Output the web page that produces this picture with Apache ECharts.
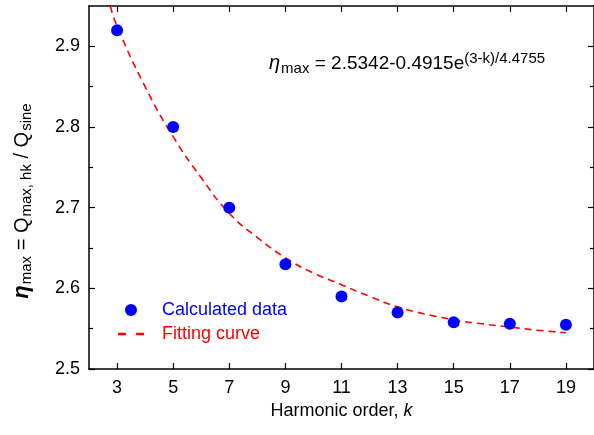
<!DOCTYPE html>
<html><head><meta charset="utf-8">
<script src="https://cdn.jsdelivr.net/npm/echarts@6/dist/echarts.min.js"></script>
<style>html,body{margin:0;padding:0;background:#fff}#c{width:594px;height:435px}</style>
</head><body><div id="c"></div>
<script>
// ---- data ----
const harmonicOrder = [3, 5, 7, 9, 11, 13, 15, 17, 19];
const calculatedData = [2.92, 2.80, 2.70, 2.63, 2.59, 2.57, 2.558, 2.556, 2.555];
const fitK = [2.76, 3, 4, 5, 6, 7, 8, 9, 10, 11, 12, 13, 14, 15, 16, 17, 18, 19];
const fitValues = [2.95, 2.925, 2.850, 2.788, 2.737, 2.693, 2.663, 2.638, 2.619, 2.6045, 2.590, 2.577, 2.568, 2.561, 2.556, 2.552, 2.548, 2.545];
const xTickValues = [3, 5, 7, 9, 11, 13, 15, 17, 19];
const yTickValues = [2.5, 2.6, 2.7, 2.8, 2.9];

const FONT = 'Arial, "Liberation Sans", sans-serif';
const chart = echarts.init(document.getElementById('c'), null, {renderer: 'canvas'});

const axisLineStyle = {color: '#000', width: 1.5};
const option = {
  backgroundColor: '#fff',
  animation: false,
  grid: {left: 89, right: -3, top: 6, bottom: 66, containLabel: false},
  xAxis: [{
    type: 'value', min: 2, max: 20, position: 'bottom',
    axisLine: {show: true, onZero: false, lineStyle: axisLineStyle},
    axisTick: {show: true, inside: true, length: 6, customValues: xTickValues, lineStyle: {color: '#000', width: 1.2}},
    axisLabel: {show: true, customValues: xTickValues, margin: 10, color: '#000', fontSize: 18, fontFamily: FONT},
    splitLine: {show: false},
    name: '{n|Harmonic order, }{i|k}', nameLocation: 'middle', nameGap: 33,
    nameTextStyle: {rich: {
      n: {fontSize: 18, fontFamily: FONT, color: '#000'},
      i: {fontSize: 18, fontFamily: FONT, color: '#000', fontStyle: 'italic'}
    }}
  }, {
    type: 'value', min: 2, max: 20, position: 'top',
    axisLine: {show: true, onZero: false, lineStyle: axisLineStyle},
    axisTick: {show: true, inside: true, length: 6, customValues: xTickValues, lineStyle: {color: '#000', width: 1.2}},
    axisLabel: {show: false}, splitLine: {show: false}
  }],
  yAxis: [{
    type: 'value', min: 2.5, max: 2.95, interval: 0.1, position: 'left',
    axisLine: {show: true, onZero: false, lineStyle: axisLineStyle},
    axisTick: {show: true, inside: true, length: 6, customValues: yTickValues, lineStyle: {color: '#000', width: 1.2}},
    minorTick: {show: true, splitNumber: 2, length: 4, lineStyle: {color: '#000', width: 1.2}},
    axisLabel: {show: true, customValues: yTickValues, margin: 9, color: '#000', fontSize: 18, fontFamily: FONT,
      formatter: v => v.toFixed(1)},
    splitLine: {show: false}
  }, {
    type: 'value', min: 2.5, max: 2.95, interval: 0.1, position: 'right',
    axisLine: {show: true, onZero: false, lineStyle: axisLineStyle},
    axisTick: {show: true, inside: true, length: 6, customValues: yTickValues, lineStyle: {color: '#000', width: 1.2}},
    minorTick: {show: true, splitNumber: 2, length: 4, lineStyle: {color: '#000', width: 1.2}},
    axisLabel: {show: false}, splitLine: {show: false}
  }],
  legend: {
    orient: 'vertical', left: 113, top: 296, itemGap: 6, itemWidth: 26, itemHeight: 12,
    textStyle: {fontSize: 18, fontFamily: FONT, padding: [0, 0, 0, 13]},
    data: [
      {name: 'Calculated data', icon: 'circle', textStyle: {color: '#0000ff'}},
      {name: 'Fitting curve', icon: 'path://M0,0h7v2h-7zM16,0h7v2h-7z',
       itemStyle: {color: '#ff0000'}, textStyle: {color: '#ff0000'}}
    ]
  },
  series: [{
    name: 'Fitting curve', type: 'line', smooth: true, symbol: 'none', z: 2,
    data: fitK.map((k, i) => [k, fitValues[i]]),
    lineStyle: {color: '#ff0000', width: 1.6, type: [7, 5]},
    itemStyle: {color: '#ff0000'}
  }, {
    name: 'Calculated data', type: 'scatter', symbol: 'circle', symbolSize: 12, z: 3,
    data: harmonicOrder.map((k, i) => [k, calculatedData[i]]),
    itemStyle: {color: '#0000ff', opacity: 1}
  }],
  graphic: [{
    type: 'text', left: 269, top: 51, z: 10,
    style: {
      text: '{e|η}{s|max}{n| = 2.5342-0.4915e}{p|(3-k)/4.4755}',
      rich: {
        e: {fontSize: 20, fontFamily: FONT, fontStyle: 'italic', fill: '#000'},
        s: {fontSize: 15, fontFamily: FONT, fill: '#000', padding: [10, 0, 0, 1]},
        n: {fontSize: 19, fontFamily: FONT, fill: '#000'},
        p: {fontSize: 15, fontFamily: FONT, fill: '#000', padding: [0, 0, 10, 0]}
      }
    }
  }, {
    type: 'text', x: 22, y: 201, rotation: Math.PI / 2, z: 10,
    style: {
      text: '{e|η}{s|max}{n| = Q}{s|max, hk}{n| / Q}{s|sine}',
      align: 'center', verticalAlign: 'middle',
      rich: {
        e: {fontSize: 22, fontFamily: FONT, fontStyle: 'italic', fontWeight: 'bold', fill: '#000'},
        s: {fontSize: 15, fontFamily: FONT, fill: '#000', padding: [10, 0, 0, 1]},
        n: {fontSize: 20, fontFamily: FONT, fill: '#000'}
      }
    }
  }]
};
chart.setOption(option);
</script>
</body></html>
